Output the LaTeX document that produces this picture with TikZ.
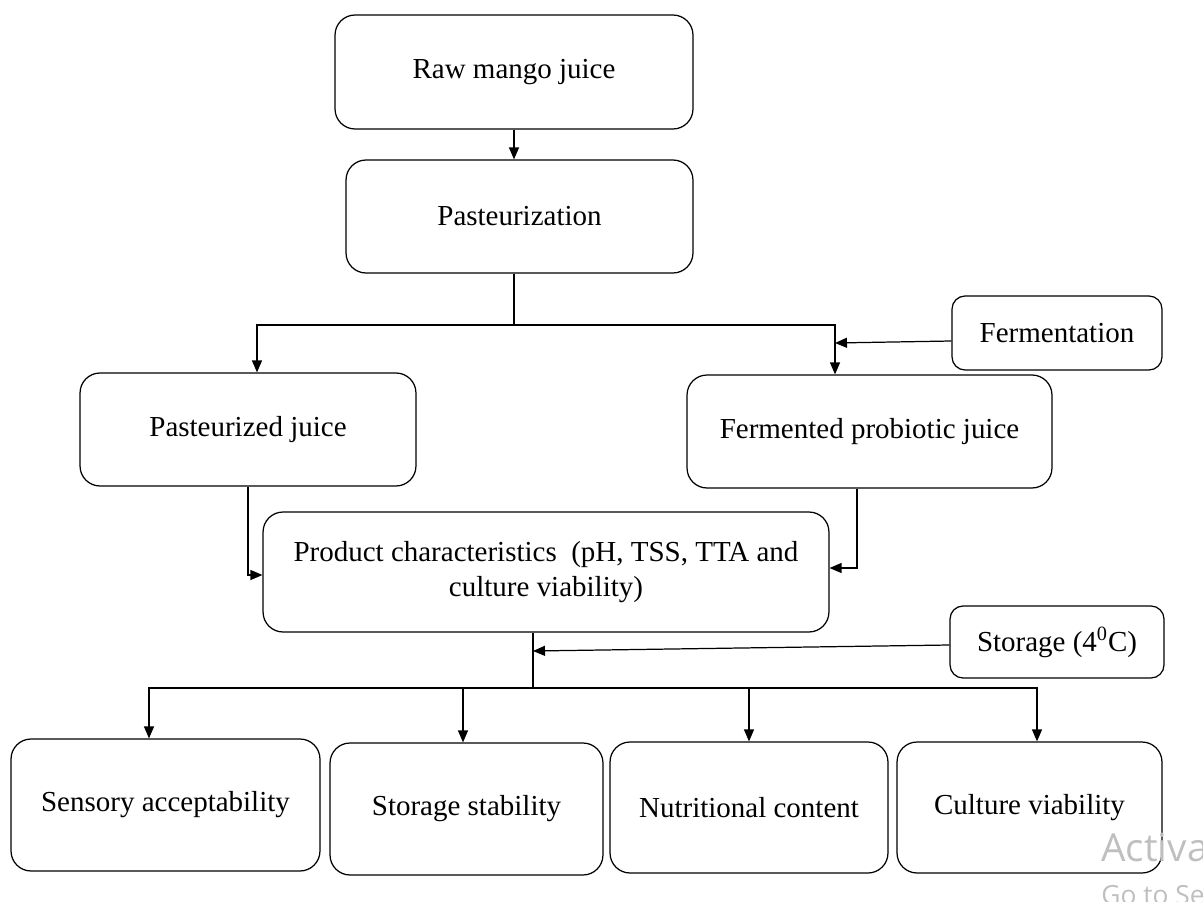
\documentclass[tikz,border=0pt]{standalone}
\usepackage{fontspec}
\setmainfont{Liberation Serif}
\newfontfamily\wmfont{Open Sans}
\usetikzlibrary{positioning,arrows.meta}

\begin{document}
\begin{tikzpicture}[
    x=0.02cm, y=-0.02cm,
    box/.style={rectangle, rounded corners=0.4cm, draw, line width=0.7pt, align=center,
        font=\fontsize{16.5}{19.5}\selectfont},
    smallbox/.style={box, rounded corners=0.26cm},
    arr/.style={line width=0.7pt, -{Triangle[length=0.24cm,width=0.2cm]}},
    ln/.style={line width=0.7pt}
]
    \useasboundingbox (0,0) rectangle (1203,902);

    \node[box, minimum width=7.16cm, minimum height=2.28cm] (raw) at (514,72) {Raw mango juice};
    \node[box, minimum width=6.94cm, minimum height=2.26cm] (past) at (519.5,216.5) {Pasteurization};
    \node[box, minimum width=6.72cm, minimum height=2.26cm] (pjuice) at (248,429.5) {Pasteurized juice};
    \node[box, minimum width=7.3cm, minimum height=2.26cm] (fjuice) at (869.5,431.5) {Fermented probiotic juice};
    \node[smallbox, minimum width=4.2cm, minimum height=1.48cm] (ferm) at (1057,333) {Fermentation};
    \node[box, minimum width=11.32cm, minimum height=2.4cm] (prod) at (546,572)
        {Product characteristics\enspace(pH, TSS, TTA and\\culture viability)};
    \node[smallbox, minimum width=4.28cm, minimum height=1.44cm] (stor) at (1057,642) {Storage (4\textsuperscript{0}C)};
    \node[box, minimum width=6.18cm, minimum height=2.64cm] (sens) at (165.5,805) {Sensory acceptability};
    \node[box, minimum width=5.46cm, minimum height=2.64cm] (stab) at (466.5,809) {Storage stability};
    \node[box, minimum width=5.56cm, minimum height=2.62cm] (nutr) at (749,807.5) {Nutritional content};
    \node[box, minimum width=5.3cm, minimum height=2.62cm] (cult) at (1029.5,807.5) {Culture viability};

    \coordinate (split1) at (514,325);
    \coordinate (fin) at (835,343);
    \coordinate (split2) at (533,688);
    \coordinate (sin) at (533,651);

    \draw[arr] (raw) -- (raw |- past.north);
    \draw[ln] (split1 |- past.south) -- (split1);
    \draw[arr] (split1) -| ([xshift=0.18cm]pjuice.north);
    \draw[arr] (split1) -| ([xshift=-0.69cm]fjuice.north);
    \draw[arr] ([yshift=-0.16cm]ferm.west) -- (fin);

    \draw[arr] (pjuice.south) |- ([yshift=-0.06cm]prod.west);
    \draw[arr] ([xshift=-0.25cm]fjuice.south) |- ([yshift=0.08cm]prod.east);

    \draw[ln] (split2 |- prod.south) -- (split2);
    \draw[arr] ([yshift=-0.06cm]stor.west) -- (sin);
    \draw[arr] (split2) -| ([xshift=-0.33cm]sens.north);
    \draw[arr] (split2) -| ([xshift=-0.07cm]stab.north);
    \draw[arr] (split2) -| (nutr.north);
    \draw[arr] (split2) -| ([xshift=0.15cm]cult.north);

    \node[anchor=base west, text=black!25, font=\wmfont\fontsize{22}{24}\selectfont, inner sep=0pt] (wm1) at (1101,861) {Activa};
    \node[anchor=base west, text=black!25, font=\wmfont\fontsize{15}{17}\selectfont, inner sep=0pt] (wm2) at (1101,904) {Go to Se};
\end{tikzpicture}
\end{document}
